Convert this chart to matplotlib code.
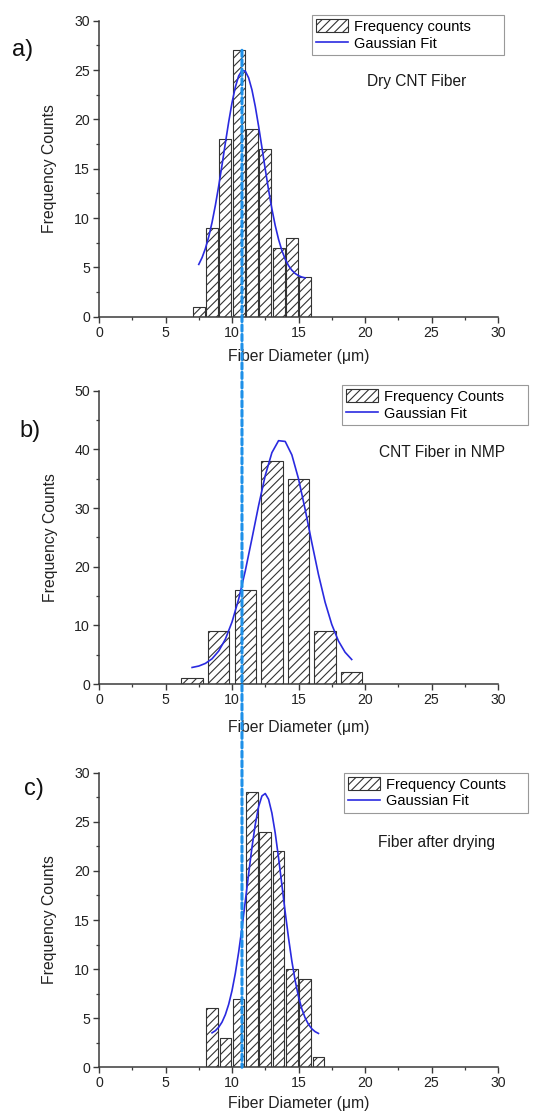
import matplotlib
matplotlib.use("Agg")
import matplotlib.pyplot as plt
from matplotlib.patches import Patch, ConnectionPatch
from matplotlib.lines import Line2D
from matplotlib.ticker import MultipleLocator

plt.rcParams['font.family'] = ['Liberation Sans', 'DejaVu Sans']
plt.rcParams['hatch.linewidth'] = 0.8
plt.rcParams['hatch.color'] = '#333333'

# ---------------- data ----------------
a_centers = [7.5, 8.5, 9.5, 10.5, 11.5, 12.5, 13.5, 14.5, 15.5]
a_counts = [1, 9, 18, 27, 19, 17, 7, 8, 4]
a_fit_x = [7.5, 7.75, 8.0, 8.25, 8.5, 8.75, 9.0, 9.25, 9.5, 9.75, 10.0, 10.25,
           10.5, 10.75, 11.0, 11.25, 11.5, 11.75, 12.0, 12.25, 12.5, 12.75, 13.0,
           13.25, 13.5, 13.75, 14.0, 14.25, 14.5, 14.75, 15.0, 15.25, 15.5]
a_fit_y = [5.30, 5.99, 6.91, 8.10, 9.56, 11.29, 13.25, 15.38, 17.59, 19.73, 21.68,
           23.27, 24.40, 24.95, 24.89, 24.21, 22.99, 21.31, 19.31, 17.15, 14.95,
           12.84, 10.92, 9.24, 7.84, 6.71, 5.84, 5.18, 4.71, 4.38, 4.16, 4.02, 3.93]

b_centers = [7, 9, 11, 13, 15, 17, 19]
b_counts = [1, 9, 16, 38, 35, 9, 2]
b_fit_x = [7.0, 7.5, 8.0, 8.5, 9.0, 9.5, 10.0, 10.5, 11.0, 11.5, 12.0, 12.5, 13.0,
           13.5, 14.0, 14.5, 15.0, 15.5, 16.0, 16.5, 17.0, 17.5, 18.0, 18.5, 19.0]
b_fit_y = [2.82, 3.06, 3.51, 4.30, 5.62, 7.64, 10.56, 14.47, 19.30, 24.79, 30.42,
           35.55, 39.44, 41.48, 41.35, 39.06, 34.99, 29.76, 24.11, 18.68, 13.94,
           10.16, 7.35, 5.42, 4.18]

c_centers = [8.5, 9.5, 10.5, 11.5, 12.5, 13.5, 14.5, 15.5, 16.5]
c_counts = [6, 3, 7, 28, 24, 22, 10, 9, 1]
c_fit_x = [8.5, 8.75, 9.0, 9.25, 9.5, 9.75, 10.0, 10.25, 10.5, 10.75, 11.0, 11.25,
           11.5, 11.75, 12.0, 12.25, 12.5, 12.75, 13.0, 13.25, 13.5, 13.75, 14.0,
           14.25, 14.5, 14.75, 15.0, 15.25, 15.5, 15.75, 16.0, 16.25, 16.5]
c_fit_y = [3.51, 3.73, 4.08, 4.60, 5.36, 6.41, 7.80, 9.57, 11.72, 14.20, 16.91,
           19.70, 22.38, 24.73, 26.54, 27.63, 27.88, 27.29, 25.89, 23.85, 21.34,
           18.59, 15.80, 13.17, 10.81, 8.82, 7.20, 5.95, 5.03, 4.37, 3.92, 3.63, 3.45]

ref_diameter = 10.75
xlabel = "Fiber Diameter (\u03bcm)"
ylabel = "Frequency Counts"

W, H = 537, 1118
fig = plt.figure(figsize=(W / 100, H / 100), dpi=100)

def rect(top_px, bottom_px, left_px=99, right_px=498):
    return [left_px / W, 1 - bottom_px / H, (right_px - left_px) / W, (bottom_px - top_px) / H]

panels = [
    dict(pos=rect(20.7, 316.7), centers=a_centers, counts=a_counts, width=0.9,
         fx=a_fit_x, fy=a_fit_y, ymax=30, ymaj=5, ymin=2.5,
         leg1="Frequency counts", note="Dry CNT Fiber", note_xy=(0.672, 0.796),
         leg_box=(312, 504, 15, 52), label="a)", label_xy=(23, 50), xlabelpad=6.5),
    dict(pos=rect(390.7, 684), centers=b_centers, counts=b_counts, width=1.6,
         fx=b_fit_x, fy=b_fit_y, ymax=50, ymaj=10, ymin=5,
         leg1="Frequency Counts", note="CNT Fiber in NMP", note_xy=(0.702, 0.789),
         leg_box=(342, 528, 385, 422), label="b)", label_xy=(30, 431), xlabelpad=9.5),
    dict(pos=rect(772.7, 1067.3), centers=c_centers, counts=c_counts, width=0.87,
         fx=c_fit_x, fy=c_fit_y, ymax=30, ymaj=5, ymin=2.5,
         leg1="Frequency Counts", note="Fiber after drying", note_xy=(0.700, 0.762),
         leg_box=(344, 528, 772.7, 809), label="c)", label_xy=(34, 789), xlabelpad=4),
]

axes = []
spine_c = '#3a3a3a'
for p in panels:
    ax = fig.add_axes(p['pos'])
    axes.append(ax)
    ax.bar(p['centers'], p['counts'], width=p['width'], color='white',
           edgecolor='#333333', linewidth=0.8, hatch='////', zorder=2)
    ax.plot(p['fx'], p['fy'], color='#2a2ae0', linewidth=1.2, zorder=3)
    ax.set_xlim(0, 30)
    ax.set_ylim(0, p['ymax'])
    ax.xaxis.set_major_locator(MultipleLocator(5))
    ax.xaxis.set_minor_locator(MultipleLocator(2.5))
    ax.yaxis.set_major_locator(MultipleLocator(p['ymaj']))
    ax.yaxis.set_minor_locator(MultipleLocator(p['ymin']))
    for s in ['top', 'right']:
        ax.spines[s].set_visible(False)
    for s in ['left', 'bottom']:
        ax.spines[s].set_color(spine_c)
        ax.spines[s].set_linewidth(1.1)
    ax.tick_params(which='major', direction='out', length=4, width=1.0,
                   color=spine_c, labelsize=10.2, pad=2.5, labelcolor='#222222')
    ax.tick_params(which='minor', direction='out', length=2.2, width=0.9, color=spine_c)
    ax.set_xlabel(xlabel, fontsize=11.3, labelpad=p['xlabelpad'], color='#222222')
    ax.set_ylabel(ylabel, fontsize=11.3, labelpad=12, color='#222222')
    ax.text(p['note_xy'][0], p['note_xy'][1], p['note'], transform=ax.transAxes,
            fontsize=11.2, ha='left', va='center', color='#1a1a1a')
    handles = [Patch(facecolor='white', edgecolor='#333333', hatch='////', linewidth=0.8),
               Line2D([], [], color='#2a2ae0', linewidth=1.2)]
    l, r, t, b = p['leg_box']
    x0 = (l - 99) / 399
    w = (r - l) / 399
    ax_top = (1 - p['pos'][1] - p['pos'][3]) * H
    ax_h = p['pos'][3] * H
    y1 = 1 - (t - ax_top) / ax_h
    y0 = 1 - (b - ax_top) / ax_h
    leg = ax.legend(handles, [p['leg1'], "Gaussian Fit"], loc='upper left',
                    bbox_to_anchor=(x0, y0, w, y1 - y0), mode='expand',
                    borderaxespad=0, fontsize=10.5, frameon=True, fancybox=False,
                    framealpha=1, edgecolor='#999999', borderpad=0.3,
                    labelspacing=0.15, handlelength=2.2, handleheight=1.0,
                    handletextpad=0.4)
    leg.get_frame().set_linewidth(0.8)
    fig.text(p['label_xy'][0] / W, 1 - p['label_xy'][1] / H, p['label'],
             fontsize=17, ha='center', va='center', color='#111111')

# vertical dashed reference line across all panels
con = ConnectionPatch(xyA=(ref_diameter, a_counts[3]), coordsA=axes[0].transData,
                      xyB=(ref_diameter, 0), coordsB=axes[2].transData,
                      color='#1e90e8', linewidth=2.2, linestyle=(0, (2.0, 1.1)),
                      zorder=10)
fig.add_artist(con)

fig.savefig("out.png", dpi=100)
